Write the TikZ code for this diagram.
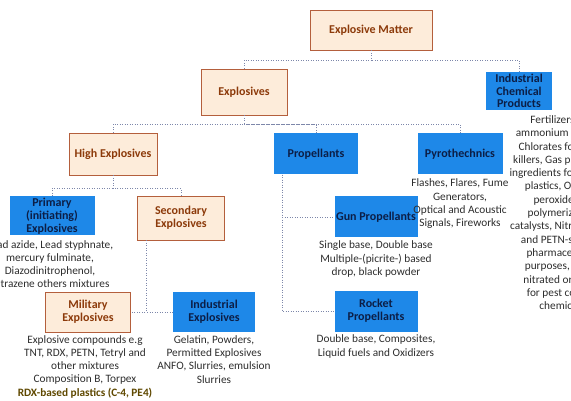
\documentclass[tikz,border=0pt]{standalone}
\usepackage{fontspec}
\setmainfont{Carlito}
\usetikzlibrary{calc}
\definecolor{bfill}{RGB}{30,136,232}
\definecolor{btext}{RGB}{12,30,70}
\definecolor{ofill}{RGB}{253,236,218}
\definecolor{odraw}{RGB}{180,95,60}
\definecolor{otext}{RGB}{140,58,10}
\definecolor{ctext}{RGB}{45,45,45}
\definecolor{olive}{RGB}{95,72,0}
\definecolor{conn}{RGB}{125,135,170}
\tikzset{
  lab/.style={font=\fontsize{12}{12.8}\selectfont\bfseries, align=center, inner sep=1pt},
  obox/.style={lab, draw=odraw, fill=ofill, line width=0.6pt, text=otext},
  bbox/.style={lab, fill=bfill, text=btext},
  desc/.style={font=\fontsize{11.3}{13.3}\selectfont, text=ctext, align=center, inner sep=0pt, anchor=north},
  link/.style={draw=conn, line width=0.6pt, dash pattern=on 1pt off 1.5pt}
}
\begin{document}
\begin{tikzpicture}[x=1pt,y=-1pt]
\useasboundingbox (0,0) rectangle (571,401);
\clip (0,0) rectangle (571,401);
% boxes
\node[obox, minimum width=122, minimum height=40] (em) at (371,30) {Explosive Matter};
\node[obox, minimum width=86, minimum height=46] (exp) at (244,92) {Explosives};
\node[bbox, minimum width=66, minimum height=38] (icp) at (519,91) {Industrial\\Chemical\\Products};
\node[obox, minimum width=88, minimum height=42] (he) at (113,154) {High Explosives};
\node[bbox, minimum width=84, minimum height=41] (prop) at (316,154) {Propellants};
\node[bbox, minimum width=85, minimum height=41] (pyro) at (460,154) {Pyrothechnics};
\node[bbox, minimum width=85, minimum height=39] (prim) at (52,216) {Primary\\(initiating)\\Explosives};
\node[obox, minimum width=87, minimum height=44] (sec) at (181,218) {Secondary\\Explosives};
\node[bbox, minimum width=83, minimum height=41] (gun) at (376,217) {Gun Propellants};
\node[obox, minimum width=85, minimum height=40] (mil) at (88,312) {Military\\Explosives};
\node[bbox, minimum width=82, minimum height=40] (ind) at (214,312) {Industrial\\Explosives};
\node[bbox, minimum width=83, minimum height=41] (rock) at (376,311) {Rocket\\Propellants};
% descriptions
\node[desc] (pyrot) at ($(pyro.south)+(0,4)$) {Flashes, Flares, Fume\\Generators,\\Optical and Acoustic\\Signals, Fireworks};
\node[desc] (icpt) at (562,115) {Fertilizers (for\\ammonium nitrate),\\Chlorates for weed\\killers, Gas producing\\ingredients for foamed\\plastics, Organic\\peroxides as\\polymerization\\catalysts, Nitroglycerin\\and PETN-sold for\\pharmaceutical\\purposes, Other\\nitrated organics\\for pest control\\chemicals};
\node[desc] (primt) at (50,240) {Lead azide, Lead styphnate,\\mercury fulminate,\\Diazodinitrophenol,\\Tetrazene others mixtures};
\node[desc] (gunt) at ($(gun.south)+(0,3)$) {Single base, Double base\\Multiple-(picrite-) based\\drop, black powder};
\node[desc] (rockt) at ($(rock.south)+(0,3)$) {Double base, Composites,\\Liquid fuels and Oxidizers};
\node[desc] (milt) at (85,335) {Explosive compounds e.g\\TNT, RDX, PETN, Tetryl and\\other mixtures\\Composition B, Torpex\\{\bfseries\color{olive}RDX-based plastics (C-4, PE4)}};
\node[desc] (indt) at ($(ind.south)+(0,3)$) {Gelatin, Powders,\\Permitted Explosives\\ANFO, Slurries, emulsion\\Slurries};
% connectors
\coordinate (j1) at ($(em.south)+(0,10)$);
\draw[link] (em.south) -- (j1);
\draw[link] (exp.north) |- (j1);
\draw[link] (icp.north) |- (j1);
\coordinate (j2) at ($(exp.south)+(0,9)$);
\draw[link] (exp.south) -- (j2);
\draw[link] (he.north) |- (j2);
\draw[link] (prop.north) |- (j2);
\draw[link] (pyro.north) |- (j2);
\coordinate (j3) at ($(he.south)+(0,13)$);
\draw[link] (he.south) -- (j3);
\draw[link] (prim.north) |- (j3);
\draw[link] (sec.north) |- (j3);
\coordinate (pt) at ($(prop.south west)+(8,0)$);
\draw[link] (pt) |- (gun.west);
\draw[link] (pt) |- (rock.west);
\coordinate (st) at ($(sec.south west)+(9,0)$);
\draw[link] (st) |- (mil.east);
\draw[link] (st) |- (ind.west);
\end{tikzpicture}
\end{document}
